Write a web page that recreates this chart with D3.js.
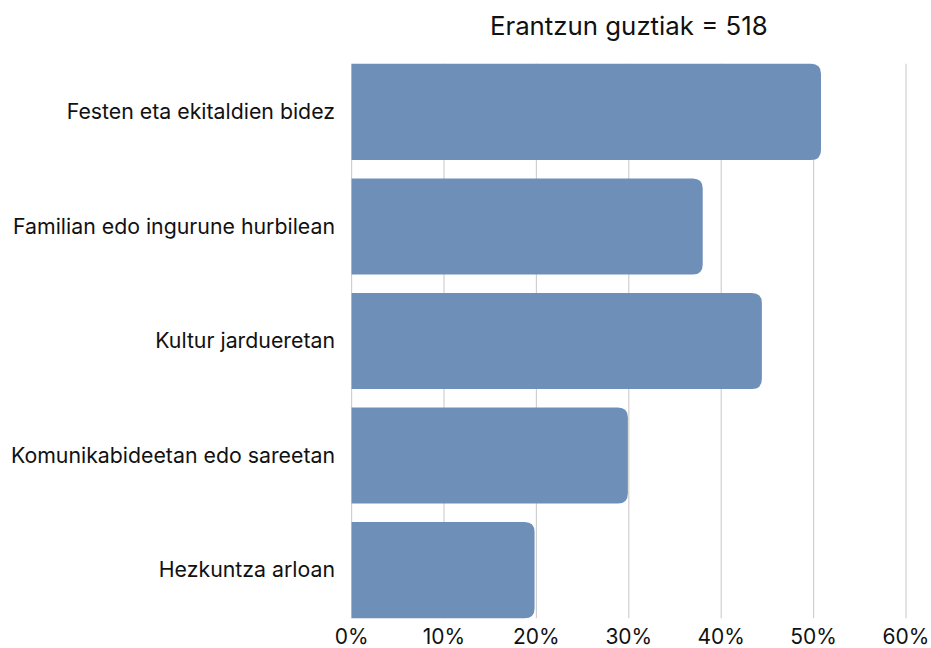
<!DOCTYPE html>
<html><head><meta charset="utf-8">
<script src="https://cdn.jsdelivr.net/npm/d3@7"></script>
<style>body{margin:0;background:#fff}svg{display:block}text{font-family:Inter,"Noto Sans",sans-serif;fill:#111}</style>
</head><body><svg id="c" width="931" height="648"></svg>
<script>
const categories = ["Festen eta ekitaldien bidez","Familian edo ingurune hurbilean","Kultur jardueretan","Komunikabideetan edo sareetan","Hezkuntza arloan"];
const values = [50.8, 38.0, 44.4, 29.9, 19.8];
const ticks = [0,10,20,30,40,50,60];
const title = "Erantzun guztiak = 518";

const svg = d3.select("#c");
const x = d3.scaleLinear().domain([0,60]).range([351.6, 906]);
const y = d3.scaleBand().domain(categories).range([54.7, 627.3]).paddingInner(0.16).paddingOuter(0.08);
const top0 = y(categories[0]), bot = y(categories[categories.length-1]) + y.bandwidth();

svg.append("g").selectAll("line").data(ticks).join("line")
  .attr("x1", d=>x(d)).attr("x2", d=>x(d)).attr("y1", top0).attr("y2", bot)
  .attr("stroke", "#d0d0d0").attr("stroke-width", 1.2);

const r = 10;
svg.append("g").selectAll("path").data(categories).join("path")
  .attr("fill", "#6d8fb8")
  .attr("d", (c,i)=>{
    const x0 = x(0), x1 = x(values[i]), y0 = y(c), h = y.bandwidth();
    return `M${x0},${y0}H${x1-r}Q${x1},${y0} ${x1},${y0+r}V${y0+h-r}Q${x1},${y0+h} ${x1-r},${y0+h}H${x0}Z`;
  });

svg.append("g").selectAll("text").data(categories).join("text")
  .attr("x", 335).attr("y", c=>y(c)+y.bandwidth()/2).attr("dy","0.35em")
  .attr("text-anchor","end").attr("font-size", 21.3).text(c=>c);

svg.append("g").selectAll("text").data(ticks).join("text")
  .attr("x", d=>x(d)).attr("y", 637).attr("dy","0.35em")
  .attr("text-anchor","middle").attr("font-size", 21).text(d=>d+"%");

svg.append("text").attr("x", x(30)).attr("y", 26).attr("dy","0.35em")
  .attr("text-anchor","middle").attr("font-size", 25.8).text(title);
</script></body></html>
